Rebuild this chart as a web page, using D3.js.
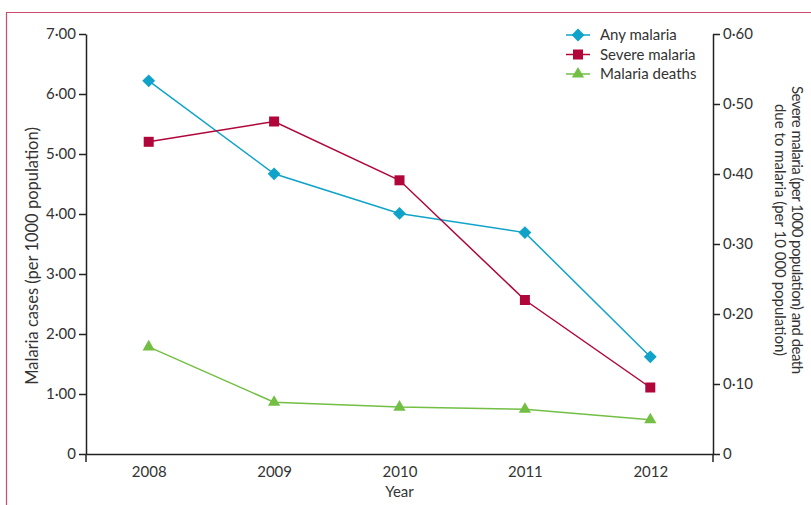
<!DOCTYPE html>
<html>
<head>
<meta charset="utf-8">
<script src="https://cdn.jsdelivr.net/npm/d3@7"></script>
<style>
  html, body { margin: 0; padding: 0; background: #fff; }
  svg { display: block; font-family: Lato, "Open Sans", sans-serif; }
</style>
</head>
<body>
<svg id="chart" width="811" height="505"></svg>
<script>
// Malaria indicators, 2008–2012
const years = ["2008", "2009", "2010", "2011", "2012"];
const anyMalaria = [6.22, 4.67, 4.01, 3.69, 1.62];        // per 1000 population (left axis)
const severeMalaria = [0.446, 0.475, 0.391, 0.220, 0.095]; // per 1000 population (right axis)
const malariaDeaths = [0.153, 0.074, 0.067, 0.064, 0.049]; // per 10 000 population (right axis)
const leftTicks = [0, 1, 2, 3, 4, 5, 6, 7];
const rightTicks = [0, 0.1, 0.2, 0.3, 0.4, 0.5, 0.6];

const fmt = v => v === 0 ? "0" : d3.format(".2f")(v).replace(".", "\u00B7");

const svg = d3.select("#chart");
const L = 86, R = 713, T = 34, B = 454;

// frame
svg.append("path")
  .attr("d", `M6.5,505 V12.5 H811`)
  .attr("fill", "none").attr("stroke", "#cc4a6e").attr("stroke-width", 1.2);

const x = d3.scalePoint().domain(years).range([L, R]).padding(0.5);
const yL = d3.scaleLinear().domain([0, 7]).range([B, T]);
const yR = d3.scaleLinear().domain([0, 0.6]).range([B, T]);

const tickColor = "#222";
const textColor = "#333";

// left axis
const gL = svg.append("g").attr("transform", `translate(${L},0)`)
  .call(d3.axisLeft(yL).tickValues(leftTicks).tickFormat(fmt).tickSize(7).tickSizeOuter(0));
// right axis
const gR = svg.append("g").attr("transform", `translate(${R},0)`)
  .call(d3.axisRight(yR).tickValues(rightTicks).tickFormat(fmt).tickSize(7).tickSizeOuter(0));
// bottom axis
const gB = svg.append("g").attr("transform", `translate(0,${B})`)
  .call(d3.axisBottom(x).tickSize(0).tickPadding(12).tickSizeOuter(0));

[gL, gR, gB].forEach(g => {
  g.selectAll("path.domain").attr("stroke", tickColor).attr("stroke-width", 1.5);
  g.selectAll(".tick line").attr("stroke", tickColor).attr("stroke-width", 1.5);
  g.selectAll("text").attr("fill", textColor).style("font-size", "15px")
    .style("font-family", "Lato, 'Open Sans', sans-serif");
});
gL.selectAll("text").attr("x", -10);
gR.selectAll("text").attr("x", 10);

// vertical axes run a little below the baseline
svg.append("line").attr("x1", L).attr("x2", L).attr("y1", B).attr("y2", B + 8)
  .attr("stroke", tickColor).attr("stroke-width", 1.5);
svg.append("line").attr("x1", R).attr("x2", R).attr("y1", B).attr("y2", B + 8)
  .attr("stroke", tickColor).attr("stroke-width", 1.5);

// axis titles
svg.append("text").attr("x", (L + R) / 2).attr("y", 497).attr("text-anchor", "middle")
  .attr("fill", textColor).style("font-size", "15px").text("Year");
svg.append("text").attr("transform", `translate(38,256) rotate(-90)`)
  .attr("text-anchor", "middle").attr("fill", textColor).style("font-size", "16.5px")
  .text("Malaria cases (per 1000 population)");
const rt = svg.append("text").attr("transform", `translate(792,${(T + B) / 2 - 14}) rotate(90)`)
  .attr("text-anchor", "middle").attr("fill", textColor).style("font-size", "15px");
rt.append("tspan").attr("x", 0).attr("dy", 0).attr("textLength", 288)
  .text("Severe malaria (per 1000 population) and death");
rt.append("tspan").attr("x", 0).attr("dy", 17).text("due to malaria (per 10 000 population)");

// series
const series = [
  { name: "Any malaria", values: anyMalaria, y: yL, color: "#0fa3c9", symbol: d3.symbolDiamond2, size: 105 },
  { name: "Severe malaria", values: severeMalaria, y: yR, color: "#b0063a", symbol: d3.symbolSquare, size: 100 },
  { name: "Malaria deaths", values: malariaDeaths, y: yR, color: "#72bf44", symbol: d3.symbolTriangle, size: 65 }
];

series.forEach(s => {
  const line = d3.line().x((d, i) => x(years[i])).y(d => s.y(d));
  svg.append("path").datum(s.values).attr("d", line)
    .attr("fill", "none").attr("stroke", s.color).attr("stroke-width", 1.5);
  svg.append("g").selectAll("path").data(s.values).join("path")
    .attr("transform", (d, i) => `translate(${x(years[i])},${s.y(d)})`)
    .attr("d", d3.symbol(s.symbol, s.size)).attr("fill", s.color);
});

// legend
const lg = svg.append("g").attr("transform", "translate(566,35)");
series.forEach((s, i) => {
  const row = lg.append("g").attr("transform", `translate(0,${i * 19.5})`);
  row.append("line").attr("x1", 0).attr("x2", 24).attr("stroke", s.color).attr("stroke-width", 1.5);
  row.append("path").attr("transform", "translate(12,0)")
    .attr("d", d3.symbol(s.symbol, s.size)).attr("fill", s.color);
  row.append("text").attr("x", 34).attr("y", 0).attr("dy", "0.35em")
    .attr("fill", textColor).style("font-size", "15px").text(s.name);
});
</script>
</body>
</html>
